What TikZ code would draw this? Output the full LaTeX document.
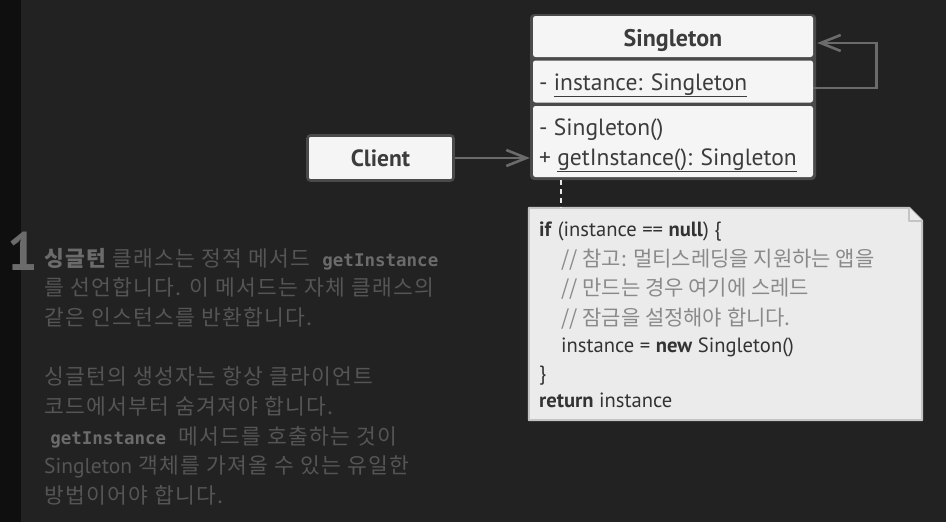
\documentclass[tikz,border=0pt]{standalone}
\usepackage{fontspec}
\setmainfont{PT Sans}
\newfontfamily\krfont{Noto Sans CJK KR}
\newfontfamily\krwide[LetterSpace=6]{Noto Sans CJK KR}
\newfontfamily\codefont{DejaVu Sans Mono}
\usetikzlibrary{arrows.meta,positioning}
\definecolor{bgdark}{HTML}{222222}
\definecolor{stripdark}{HTML}{0F0F0F}
\definecolor{boxframe}{HTML}{4A4A4A}
\definecolor{boxfill}{HTML}{F5F5F5}
\definecolor{boxtext}{HTML}{3C3C3C}
\definecolor{linkgray}{HTML}{6B6B6B}
\definecolor{notefill}{HTML}{EBEBEB}
\definecolor{noteline}{HTML}{C4C4C4}
\definecolor{codetext}{HTML}{333333}
\definecolor{commentgray}{HTML}{8A8A8A}
\definecolor{leftgray}{HTML}{555555}
\definecolor{leftbold}{HTML}{6B6B6B}
\tikzset{
  frame/.style={fill=boxframe, rounded corners=4pt, inner sep=0pt},
  compart/.style={fill=boxfill, rounded corners=2.5pt, inner sep=0pt, minimum width=280pt},
  member/.style={anchor=base west, inner sep=0pt, text=boxtext, font=\fontsize{23.5}{27}\selectfont},
  codeline/.style={anchor=base west, inner sep=0pt, text=codetext, font=\fontsize{20.6}{24}\selectfont},
  comment/.style={codeline, text=commentgray, font=\krfont\fontsize{21}{24}\selectfont},
  leftline/.style={anchor=base west, inner sep=0pt, text=leftgray, font=\krwide\fontsize{21.5}{25}\selectfont},
  link/.style={draw=linkgray, line width=2.6pt, -{Straight Barb[length=20pt,width=16pt]}},
  dotlink/.style={draw=boxfill!90!gray, line width=2.6pt, dash pattern=on 5pt off 4pt},
  notestyle/.style={draw=noteline, fill=notefill, line width=2pt, line join=round},
}
\newcommand{\gcode}[1]{{\codefont\bfseries\fontsize{17.5}{25}\selectfont\color{leftbold}#1}}
\begin{document}
\begin{tikzpicture}[x=1pt,y=-1pt]
  % background
  \fill[bgdark] (0,0) rectangle (946,522);
  \fill[stripdark] (0,0) rectangle (21,522);

  % Singleton class
  \node[frame, minimum width=286pt, minimum height=166pt] (singleton) at (673,97) {};
  \node[compart, minimum height=41pt] (title) at (673,36.5) {};
  \node[compart, minimum height=42pt] (attr) at (673,81.5) {};
  \node[compart, minimum height=71pt] (methods) at (673,141.5) {};
  \node[member, anchor=base, font=\bfseries\fontsize{24}{28}\selectfont] (titletext) at (673,46) {Singleton};
  \node[member] (attrtext) at (539,90) {- \underline{instance: Singleton}};
  \node[member] (ctor) at (539,135) {- Singleton()};
  \node[member] (getter) at (539,165) {+ \underline{getInstance(): Singleton}};

  % Client
  \node[draw=boxframe, line width=2.6pt, fill=boxfill, rounded corners=3pt, minimum width=146pt,
    minimum height=45pt, text=boxtext, font=\bfseries\fontsize{23.5}{28}\selectfont] (client) at (380.5,158) {Client};
  \draw[link] (client) -- (client -| singleton.west);
  \draw[link] ([yshift=-6.5pt]attr.east) -- ++(63,0) |- ([yshift=-6.5pt,xshift=1pt]title.east -| singleton.east);

  % note
  \node[minimum width=393pt, minimum height=212pt, inner sep=0pt] (note) at (725.5,314) {};
  \draw[notestyle] (note.north west) -- ([xshift=-13pt]note.north east) -- ([yshift=-13pt]note.north east)
    -- (note.south east) -- (note.south west) -- cycle;
  \draw[notestyle] ([xshift=-13pt]note.north east) |- ([yshift=-13pt]note.north east);
  \draw[dotlink] ([xshift=32pt]note.north west |- singleton.south) -- ([xshift=32pt]note.north west);
  \node[codeline] (c1) at (539,236) {\textbf{if} (instance == \textbf{null}) \{};
  \node[comment] (c2) at (561,266) {// 참고: 멀티스레딩을 지원하는 앱을};
  \node[comment] (c3) at (561,295.5) {// 만드는 경우 여기에 스레드};
  \node[comment] (c4) at (561,325) {// 잠금을 설정해야 합니다.};
  \node[codeline] (c5) at (561,352) {instance = \textbf{new} Singleton()};
  \node[codeline] (c6) at (539,380) {\}};
  \node[codeline] (c7) at (539,407) {\textbf{return} instance};

  % explanation
  \node[anchor=base east, inner sep=0pt, text=leftbold, font=\bfseries\fontsize{54}{54}\selectfont] (num) at (38,270) {1};
  \node[leftline] (t1) at (44,266) {{\bfseries\color{leftbold}싱글턴} 클래스는 정적 메서드 \ \gcode{getInstance}};
  \node[leftline] (t2) at (44,295.7) {를 선언합니다. 이 메서드는 자체 클래스의};
  \node[leftline] (t3) at (44,325.4) {같은 인스턴스를 반환합니다.};
  \node[leftline] (t4) at (44,384.8) {싱글턴의 생성자는 항상 클라이언트};
  \node[leftline] (t5) at (44,414.5) {코드에서부터 숨겨져야 합니다.};
  \node[leftline] (t6) at (44,444.2) {\ \gcode{getInstance} \ 메서드를 호출하는 것이};
  \node[leftline] (t7) at (44,473.9) {{\rmfamily Singleton} 객체를 가져올 수 있는 유일한};
  \node[leftline] (t8) at (44,503.6) {방법이어야 합니다.};
\end{tikzpicture}
\end{document}
